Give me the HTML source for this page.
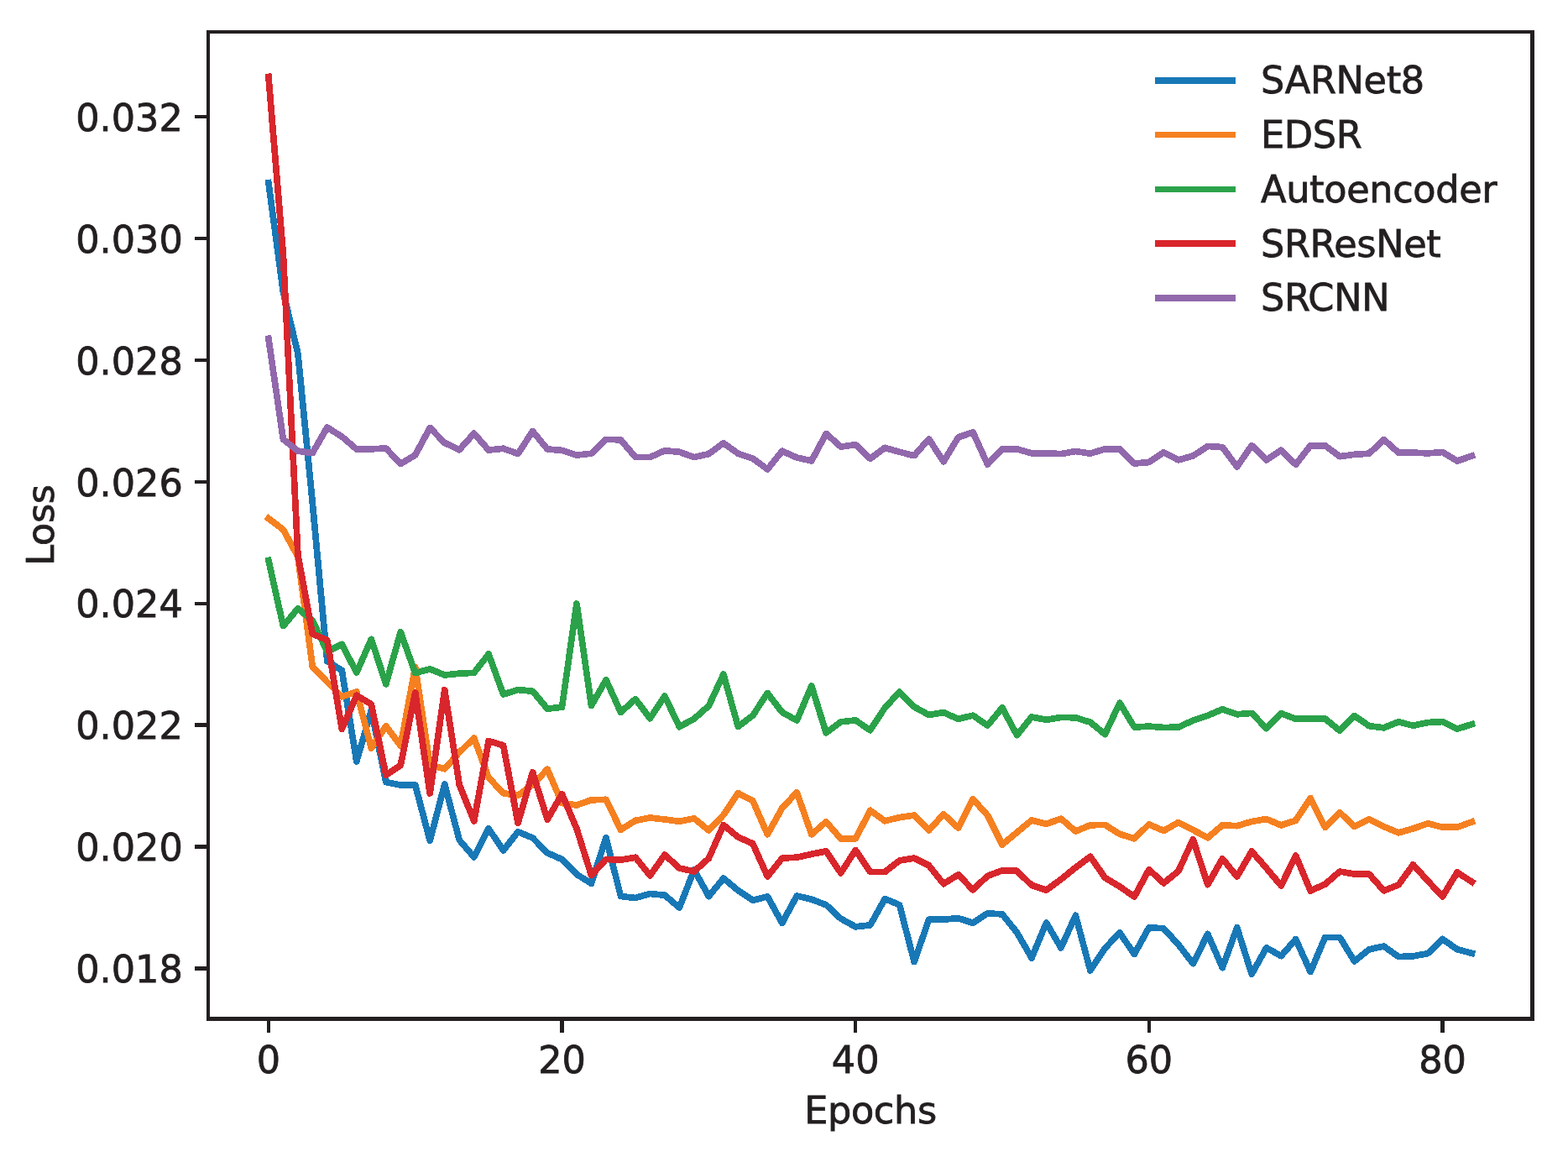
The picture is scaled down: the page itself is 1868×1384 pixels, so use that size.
<!DOCTYPE html>
<html><head><meta charset="utf-8"><title>Loss vs Epochs</title>
<style>
html,body{margin:0;padding:0;background:#fff;}
body{width:1868px;height:1384px;overflow:hidden;}
svg{display:block;}
text{font-family:"DejaVu Sans","Liberation Sans",sans-serif;font-size:44.6px;fill:#231f20;stroke:#231f20;stroke-width:0.8px;}
.ls{letter-spacing:-0.35px;}
</style></head>
<body>
<svg width="1868" height="1384" viewBox="0 0 1868 1384">
<rect width="1868" height="1384" fill="#fff"/>
<g fill="none" stroke-width="7.7" stroke-linejoin="round" stroke-linecap="square" shape-rendering="crispEdges">
<polyline points="319.9,217.7 337.4,348.0 354.9,421.0 372.3,599.0 389.8,787.5 407.3,798.5 424.8,906.9 442.3,846.0 459.8,931.5 477.2,935.0 494.7,935.0 512.2,1001.3 529.7,934.1 547.2,1000.4 564.7,1020.8 582.1,986.9 599.6,1013.0 617.1,990.7 634.6,998.0 652.1,1015.9 669.5,1023.5 687.0,1041.4 704.5,1052.3 722.0,997.7 739.5,1067.5 757.0,1069.5 774.4,1064.5 791.9,1066.2 809.4,1081.0 826.9,1036.0 844.4,1067.6 861.9,1046.1 879.3,1060.6 896.8,1072.3 914.3,1067.8 931.8,1099.4 949.3,1067.0 966.8,1071.2 984.2,1077.8 1001.7,1094.2 1019.2,1103.8 1036.7,1101.9 1054.2,1070.5 1071.6,1077.8 1089.1,1145.6 1106.6,1095.2 1124.1,1095.2 1141.6,1093.6 1159.1,1099.4 1176.5,1087.8 1194.0,1088.9 1211.5,1110.6 1229.0,1141.0 1246.5,1099.0 1264.0,1128.9 1281.4,1090.3 1298.9,1155.9 1316.4,1129.4 1333.9,1111.0 1351.4,1136.4 1368.8,1104.8 1386.3,1105.8 1403.8,1125.0 1421.3,1147.6 1438.8,1112.5 1456.3,1152.6 1473.7,1104.8 1491.2,1160.3 1508.7,1128.8 1526.2,1138.6 1543.7,1118.6 1561.2,1157.6 1578.6,1116.4 1596.1,1116.4 1613.6,1144.9 1631.1,1130.8 1648.6,1127.0 1666.1,1139.6 1683.5,1138.8 1701.0,1135.6 1718.5,1118.4 1736.0,1130.8 1753.5,1135.3" stroke="#1878b6"/>
<polyline points="319.9,617.5 337.4,630.8 354.9,663.0 372.3,794.0 389.8,812.3 407.3,829.8 424.8,824.0 442.3,891.0 459.8,864.8 477.2,888.2 494.7,794.5 512.2,911.0 529.7,915.8 547.2,896.2 564.7,879.0 582.1,926.1 599.6,944.8 617.1,947.5 634.6,934.5 652.1,916.2 669.5,956.5 687.0,959.0 704.5,952.8 722.0,952.3 739.5,988.3 757.0,977.3 774.4,974.0 791.9,976.0 809.4,978.3 826.9,974.8 844.4,989.0 861.9,970.6 879.3,944.7 896.8,953.7 914.3,993.8 931.8,962.4 949.3,943.7 966.8,993.8 984.2,978.8 1001.7,999.0 1019.2,999.0 1036.7,965.3 1054.2,977.8 1071.6,973.6 1089.1,971.1 1106.6,989.0 1124.1,969.7 1141.6,986.1 1159.1,951.8 1176.5,971.1 1194.0,1006.0 1211.5,991.4 1229.0,977.0 1246.5,981.4 1264.0,975.1 1281.4,990.1 1298.9,982.8 1316.4,982.4 1333.9,993.4 1351.4,998.8 1368.8,981.8 1386.3,989.5 1403.8,979.5 1421.3,988.5 1438.8,997.8 1456.3,982.8 1473.7,983.7 1491.2,978.5 1508.7,975.5 1526.2,982.9 1543.7,977.2 1561.2,950.5 1578.6,985.3 1596.1,967.7 1613.6,984.5 1631.1,975.7 1648.6,984.5 1666.1,991.8 1683.5,986.9 1701.0,980.8 1718.5,985.3 1736.0,985.3 1753.5,978.9" stroke="#f58020"/>
<polyline points="319.9,667.5 337.4,745.6 354.9,724.8 372.3,739.0 389.8,776.1 407.3,767.4 424.8,801.0 442.3,761.4 459.8,814.8 477.2,752.8 494.7,801.6 512.2,796.8 529.7,804.0 547.2,802.2 564.7,801.3 582.1,779.1 599.6,827.0 617.1,821.6 634.6,823.2 652.1,844.2 669.5,842.2 687.0,718.9 704.5,840.3 722.0,809.8 739.5,848.4 757.0,832.6 774.4,855.7 791.9,829.1 809.4,865.7 826.9,856.1 844.4,840.7 861.9,803.1 879.3,865.4 896.8,852.2 914.3,825.6 931.8,848.4 949.3,858.0 966.8,817.0 984.2,872.9 1001.7,859.8 1019.2,857.9 1036.7,869.8 1054.2,842.9 1071.6,824.2 1089.1,841.9 1106.6,851.5 1124.1,848.6 1141.6,856.4 1159.1,852.1 1176.5,864.1 1194.0,842.9 1211.5,875.6 1229.0,854.0 1246.5,857.3 1264.0,854.4 1281.4,854.8 1298.9,860.2 1316.4,874.6 1333.9,837.3 1351.4,866.1 1368.8,865.1 1386.3,866.5 1403.8,866.1 1421.3,858.2 1438.8,852.2 1456.3,844.8 1473.7,850.8 1491.2,849.4 1508.7,867.5 1526.2,849.7 1543.7,856.3 1561.2,855.7 1578.6,856.0 1596.1,870.3 1613.6,852.5 1631.1,864.7 1648.6,866.8 1666.1,859.8 1683.5,864.3 1701.0,860.5 1718.5,859.6 1736.0,868.2 1753.5,862.6" stroke="#2ba24a"/>
<polyline points="319.9,91.4 337.4,303.0 354.9,661.0 372.3,755.0 389.8,762.4 407.3,868.5 424.8,828.3 442.3,838.8 459.8,923.0 477.2,911.6 494.7,825.0 512.2,945.0 529.7,821.8 547.2,934.5 564.7,978.0 582.1,882.5 599.6,887.8 617.1,980.3 634.6,919.8 652.1,976.2 669.5,945.8 687.0,987.0 704.5,1042.6 722.0,1023.4 739.5,1024.3 757.0,1021.2 774.4,1042.9 791.9,1018.1 809.4,1034.0 826.9,1038.0 844.4,1022.3 861.9,982.6 879.3,997.1 896.8,1004.8 914.3,1043.9 931.8,1022.1 949.3,1021.2 966.8,1017.3 984.2,1013.9 1001.7,1039.8 1019.2,1012.5 1036.7,1038.4 1054.2,1038.5 1071.6,1025.0 1089.1,1022.1 1106.6,1030.8 1124.1,1052.7 1141.6,1041.8 1159.1,1059.8 1176.5,1043.3 1194.0,1036.8 1211.5,1037.2 1229.0,1054.4 1246.5,1060.2 1264.0,1047.3 1281.4,1033.3 1298.9,1020.2 1316.4,1045.4 1333.9,1056.0 1351.4,1067.9 1368.8,1035.8 1386.3,1051.8 1403.8,1037.7 1421.3,999.7 1438.8,1053.7 1456.3,1022.7 1473.7,1044.0 1491.2,1014.0 1508.7,1034.0 1526.2,1054.9 1543.7,1019.2 1561.2,1061.0 1578.6,1053.2 1596.1,1038.0 1613.6,1041.0 1631.1,1041.2 1648.6,1060.8 1666.1,1053.9 1683.5,1029.8 1701.0,1049.2 1718.5,1067.8 1736.0,1039.0 1753.5,1050.4" stroke="#d8262c"/>
<polyline points="319.9,403.3 337.4,523.3 354.9,537.1 372.3,539.6 389.8,509.0 407.3,520.1 424.8,535.1 442.3,534.8 459.8,534.0 477.2,552.5 494.7,541.9 512.2,509.5 529.7,527.4 547.2,535.7 564.7,516.2 582.1,536.1 599.6,534.2 617.1,540.5 634.6,513.6 652.1,535.0 669.5,536.4 687.0,542.1 704.5,540.2 722.0,523.4 739.5,523.8 757.0,544.6 774.4,544.6 791.9,536.7 809.4,538.3 826.9,544.6 844.4,540.6 861.9,527.7 879.3,540.2 896.8,546.0 914.3,558.9 931.8,537.3 949.3,545.0 966.8,548.9 984.2,516.5 1001.7,532.1 1019.2,529.6 1036.7,546.4 1054.2,533.3 1071.6,538.3 1089.1,542.7 1106.6,522.9 1124.1,549.8 1141.6,520.9 1159.1,514.8 1176.5,553.1 1194.0,534.8 1211.5,534.8 1229.0,539.8 1246.5,539.8 1264.0,540.6 1281.4,537.5 1298.9,540.2 1316.4,534.7 1333.9,534.7 1351.4,552.0 1368.8,550.6 1386.3,538.8 1403.8,547.9 1421.3,543.0 1438.8,531.4 1456.3,532.6 1473.7,555.9 1491.2,530.6 1508.7,547.9 1526.2,536.3 1543.7,553.2 1561.2,530.7 1578.6,530.7 1596.1,543.7 1613.6,541.3 1631.1,540.2 1648.6,523.6 1666.1,539.1 1683.5,539.1 1701.0,539.9 1718.5,538.5 1736.0,549.1 1753.5,543.0" stroke="#9168ac"/>
</g>
<g fill="#231f20" shape-rendering="crispEdges">
<rect x="246" y="36" width="4" height="1180"/>
<rect x="246" y="36" width="1582" height="4"/>
<rect x="1823" y="36" width="5" height="1180"/>
<rect x="246" y="1211" width="1582" height="5"/>
<rect x="232" y="1151.35" width="14" height="4.30"/>
<rect x="232" y="1006.45" width="14" height="4.30"/>
<rect x="232" y="861.45" width="14" height="4.30"/>
<rect x="232" y="716.55" width="14" height="4.30"/>
<rect x="232" y="571.65" width="14" height="4.30"/>
<rect x="232" y="426.75" width="14" height="4.30"/>
<rect x="232" y="281.75" width="14" height="4.30"/>
<rect x="232" y="136.85" width="14" height="4.30"/>
<rect x="317.75" y="1216" width="4.30" height="14"/>
<rect x="667.40" y="1216" width="4.30" height="14"/>
<rect x="1017.05" y="1216" width="4.30" height="14"/>
<rect x="1366.70" y="1216" width="4.30" height="14"/>
<rect x="1716.35" y="1216" width="4.30" height="14"/>
</g>

<g>
<text x="217.8" y="1170.2" text-anchor="end">0.018</text>
<text x="217.8" y="1025.3" text-anchor="end">0.020</text>
<text x="217.8" y="880.3" text-anchor="end">0.022</text>
<text x="217.8" y="735.4" text-anchor="end">0.024</text>
<text x="217.8" y="590.5" text-anchor="end">0.026</text>
<text x="217.8" y="445.6" text-anchor="end">0.028</text>
<text x="217.8" y="300.6" text-anchor="end">0.030</text>
<text x="217.8" y="155.7" text-anchor="end">0.032</text>
<text x="319.9" y="1278.4" text-anchor="middle">0</text>
<text x="669.5" y="1278.4" text-anchor="middle">20</text>
<text x="1019.2" y="1278.4" text-anchor="middle">40</text>
<text x="1368.8" y="1278.4" text-anchor="middle">60</text>
<text x="1718.5" y="1278.4" text-anchor="middle">80</text>
</g>
<text class="ls" x="1037" y="1338" text-anchor="middle">Epochs</text>
<text class="ls" transform="translate(64,625.5) rotate(-90)" text-anchor="middle">Loss</text>
<g>
<rect x="1376" y="92.05" width="96" height="7.70" fill="#1878b6" shape-rendering="crispEdges"/>
<text class="ls" x="1502" y="111.3">SARNet8</text>
<rect x="1376" y="156.65" width="96" height="7.70" fill="#f58020" shape-rendering="crispEdges"/>
<text class="ls" x="1502" y="176.1">EDSR</text>
<rect x="1376" y="221.55" width="96" height="7.70" fill="#2ba24a" shape-rendering="crispEdges"/>
<text class="ls" x="1502" y="240.8">Autoencoder</text>
<rect x="1376" y="286.15" width="96" height="7.70" fill="#d8262c" shape-rendering="crispEdges"/>
<text class="ls" x="1502" y="305.6">SRResNet</text>
<rect x="1376" y="351.05" width="96" height="7.70" fill="#9168ac" shape-rendering="crispEdges"/>
<text class="ls" x="1502" y="370.3">SRCNN</text>
</g>
</svg>
</body></html>
